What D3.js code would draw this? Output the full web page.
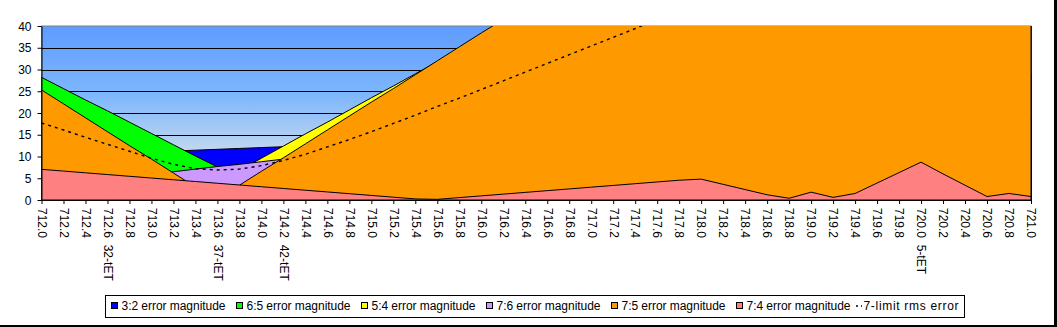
<!DOCTYPE html>
<html>
<head>
<meta charset="utf-8">
<script src="https://cdnjs.cloudflare.com/ajax/libs/d3/7.8.5/d3.min.js"></script>
<style>
	body { margin: 0; background: #fff; }
	svg text { font-family: "Liberation Sans", Arial, sans-serif; font-size: 12px; fill: #000; }
</style>
</head>
<body>
<svg id="chart"></svg>
<script>
// generator (fifth) size in cents, one category per 0.2 cent
var categories = ["712.0","712.2","712.4","712.6","712.8","713.0","713.2","713.4","713.6","713.8",
	"714.0","714.2","714.4","714.6","714.8","715.0","715.2","715.4","715.6","715.8",
	"716.0","716.2","716.4","716.6","716.8","717.0","717.2","717.4","717.6","717.8",
	"718.0","718.2","718.4","718.6","718.8","719.0","719.2","719.4","719.6","719.8",
	"720.0","720.2","720.4","720.6","720.8","721.0"];

var tickLabels = ["712.0","712.2","712.4","712.6  32-tET","712.8","713.0","713.2","713.4","713.6  37-tET","713.8",
	"714.0","714.2  42-tET","714.4","714.6","714.8","715.0","715.2","715.4","715.6","715.8",
	"716.0","716.2","716.4","716.6","716.8","717.0","717.2","717.4","717.6","717.8",
	"718.0","718.2","718.4","718.6","718.8","719.0","719.2","719.4","719.6","719.8",
	"720.0  5-tET","720.2","720.4","720.6","720.8","721.0"];

var yTicks = [0, 5, 10, 15, 20, 25, 30, 35, 40];

var err32 = [10.05,10.25,10.45,10.65,10.85,11.05,11.25,11.45,11.65,11.85,
	12.05,12.25,12.45,12.65,12.85,13.05,13.25,13.45,13.65,13.85,
	14.05,14.25,14.45,14.65,14.85,15.05,15.25,15.45,15.65,15.85,
	16.05,16.25,16.45,16.65,16.85,17.05,17.25,17.45,17.65,17.85,
	18.05,18.25,18.45,18.65,18.85,19.05];

var err65 = [28.2,25.6,23.0,20.5,17.9,15.3,12.7,10.1,7.6,5.0,
	2.4,0.2,2.8,5.3,7.9,10.5,13.1,15.7,18.2,20.8,
	23.4,26.0,28.6,31.1,33.7,36.3,38.9,41.5,44.0,46.6,
	49.2,51.8,54.4,57.0,59.5,62.1,64.7,67.3,69.9,72.4,
	75.0,77.6,80.2,82.8,85.4,87.9];

var err54 = [18.1,15.3,12.5,9.8,7.0,4.2,1.5,1.3,4.1,6.8,
	9.6,12.4,15.2,17.9,20.7,23.5,26.2,29.0,31.8,34.5,
	37.3,40.1,42.9,45.6,48.4,51.2,53.9,56.7,59.5,62.3,
	65.0,67.8,70.6,73.3,76.1,78.9,81.7,84.4,87.2,90.0,
	92.7,95.5,98.3,101.0,103.8,106.6];

var err76 = [3.0,3.6,4.2,4.8,5.3,5.9,6.5,7.1,7.7,8.2,
	8.8,9.4,10.0,10.6,11.1,11.7,12.3,12.9,13.5,14.0,
	14.6,15.2,15.8,16.4,16.9,17.5,18.1,18.7,19.3,19.8,
	20.4,21.0,21.6,22.2,22.7,23.3,23.9,24.5,25.1,25.6,
	26.2,26.8,27.4,28.0,28.5,29.1];

var err75 = [25.3,22.1,18.9,15.7,12.5,9.4,6.2,3.0,0.2,3.4,
	6.6,9.7,12.9,16.1,19.3,22.5,25.6,28.8,32.0,35.2,
	38.4,41.5,44.7,47.9,51.1,54.3,57.4,60.6,63.8,67.0,
	70.2,73.3,76.5,79.7,82.9,86.1,89.2,92.4,95.6,98.8,
	102.0,105.1,108.3,111.5,114.7,117.9];

var err74 = [7.05,6.65,6.25,5.85,5.45,5.05,4.65,4.25,3.85,3.45,
	3.05,2.65,2.25,1.85,1.45,1.05,0.65,0.25,0.15,0.55,
	0.95,1.35,1.75,2.15,2.55,2.95,3.35,3.75,4.15,4.55,
	4.8,3.6,2.4,1.2,0.4,1.8,0.6,1.5,3.9,6.3,
	8.7,6.0,3.4,0.8,1.5,0.8];

var rmsErr = [17.7,16.1,14.4,12.8,11.2,9.6,8.2,7.2,6.9,7.1,
	7.9,9.1,10.5,12.2,13.9,15.7,17.6,19.5,21.5,23.4,
	25.4,27.4,29.4,31.4,33.4,35.4,37.4,39.4,41.5,43.5,
	45.5,47.5,49.5,51.6,53.6,55.6,57.7,59.7,61.7,63.8,
	65.8,67.8,69.9,71.9,73.9,76.0];

var seriesNames = ["3:2 error magnitude", "6:5 error magnitude", "5:4 error magnitude",
	"7:6 error magnitude", "7:5 error magnitude", "7:4 error magnitude"];
var seriesColors = ["#0000ff", "#00ff00", "#ffff00", "#cc99ff", "#ff9900", "#ff8080"];
var rmsName = "7-limit rms error";

var series = [err32, err65, err54, err76, err75, err74].map(function(values, i) {
	return { name: seriesNames[i], color: seriesColors[i], values: values };
});

var W = 1057, H = 327;
var plot = { left: 41.5, right: 1031, top: 26, bottom: 200 };

var svg = d3.select("#chart").attr("width", W).attr("height", H);

var x = d3.scalePoint().domain(categories).range([plot.left, plot.right]);
var y = d3.scaleLinear().domain([0, 40]).range([plot.bottom, plot.top]);

var defs = svg.append("defs");
var grad = defs.append("linearGradient").attr("id", "plotBg")
	.attr("x1", 0).attr("y1", 0).attr("x2", 0).attr("y2", 1);
grad.append("stop").attr("offset", "0%").attr("stop-color", "#5e9cff");
grad.append("stop").attr("offset", "40%").attr("stop-color", "#7fb7fd");
grad.append("stop").attr("offset", "70%").attr("stop-color", "#bdd5f0");
grad.append("stop").attr("offset", "100%").attr("stop-color", "#e6edf3");

defs.append("clipPath").attr("id", "plotClip")
	.append("rect")
	.attr("x", plot.left).attr("y", plot.top)
	.attr("width", plot.right - plot.left + 1).attr("height", plot.bottom - plot.top + 1);

// plot area background + border
svg.append("rect")
	.attr("x", plot.left).attr("y", plot.top)
	.attr("width", plot.right - plot.left).attr("height", plot.bottom - plot.top)
	.attr("fill", "url(#plotBg)")
	.attr("stroke", "#808080").attr("stroke-width", 1);

// gridlines
svg.append("g").selectAll("line")
	.data(yTicks.filter(function(v) { return v > 0 && v < 40; }))
	.join("line")
	.attr("x1", plot.left).attr("x2", plot.right)
	.attr("y1", function(d) { return Math.round(y(d)) + 0.5; })
	.attr("y2", function(d) { return Math.round(y(d)) + 0.5; })
	.attr("stroke", "#000").attr("stroke-width", 1);

// overlapping areas, first series at the back
var area = d3.area()
	.x(function(d, i) { return x(categories[i]); })
	.y0(y(0))
	.y1(function(d) { return y(d); });

var marks = svg.append("g").attr("clip-path", "url(#plotClip)");

marks.selectAll("path.area")
	.data(series)
	.join("path")
	.attr("class", "area")
	.attr("d", function(d) { return area(d.values); })
	.attr("fill", function(d) { return d.color; })
	.attr("stroke", "#000")
	.attr("stroke-width", 1)
	.attr("stroke-linejoin", "miter");

// rms line, dotted
var line = d3.line()
	.x(function(d, i) { return x(categories[i]); })
	.y(function(d) { return y(d); });

marks.append("path")
	.attr("d", line(rmsErr))
	.attr("fill", "none")
	.attr("stroke", "#000")
	.attr("stroke-width", 1.4)
	.attr("stroke-dasharray", "3,4");

// axes
var yAxis = svg.append("g")
	.attr("transform", "translate(" + plot.left + ",0)")
	.call(d3.axisLeft(y).tickValues(yTicks).tickSize(4).tickSizeOuter(0).tickPadding(6));
yAxis.attr("font-size", null).attr("font-family", null);
yAxis.selectAll("text").attr("dy", "0.35em");

var xAxis = svg.append("g")
	.attr("transform", "translate(0," + plot.bottom + ")")
	.call(d3.axisBottom(x).tickSize(4).tickSizeOuter(0)
		.tickFormat(function(d, i) { return tickLabels[i]; }));
xAxis.attr("font-size", null).attr("font-family", null);
xAxis.selectAll("text")
	.attr("transform", "rotate(90)")
	.attr("x", 8)
	.attr("y", 0)
	.attr("dy", "0.35em")
	.style("text-anchor", "start")
	.style("white-space", "pre");

// legend
var legend = svg.append("g");
legend.append("rect")
	.attr("x", 105.5).attr("y", 295.5)
	.attr("width", 859).attr("height", 22)
	.attr("fill", "#fff").attr("stroke", "#000").attr("stroke-width", 1);

var item = legend.selectAll("g.item")
	.data(series)
	.join("g")
	.attr("class", "item")
	.attr("transform", function(d, i) { return "translate(" + (111 + i * 125) + ",0)"; });
item.append("rect")
	.attr("x", 0.5).attr("y", 302.5)
	.attr("width", 6).attr("height", 6)
	.attr("fill", function(d) { return d.color; })
	.attr("stroke", "#000").attr("stroke-width", 1);
item.append("text")
	.attr("x", 10.5).attr("y", 306).attr("dy", "0.35em")
	.attr("textLength", 104).attr("lengthAdjust", "spacing")
	.text(function(d) { return d.name; });

var rmsItem = legend.append("g").attr("transform", "translate(" + (111 + 6 * 125) + ",0)");
rmsItem.append("line")
	.attr("x1", -5).attr("x2", 1).attr("y1", 306).attr("y2", 306)
	.attr("stroke", "#000").attr("stroke-width", 1.4).attr("stroke-dasharray", "2,3");
rmsItem.append("text")
	.attr("x", 2.5).attr("y", 306).attr("dy", "0.35em")
	.attr("textLength", 95).attr("lengthAdjust", "spacing")
	.text(rmsName);

// chart frame shadow
svg.append("rect").attr("x", 1054).attr("y", 0).attr("width", 3).attr("height", H).attr("fill", "#000");
svg.append("rect").attr("x", 0).attr("y", 325).attr("width", W).attr("height", 2).attr("fill", "#000");
</script>
</body>
</html>
